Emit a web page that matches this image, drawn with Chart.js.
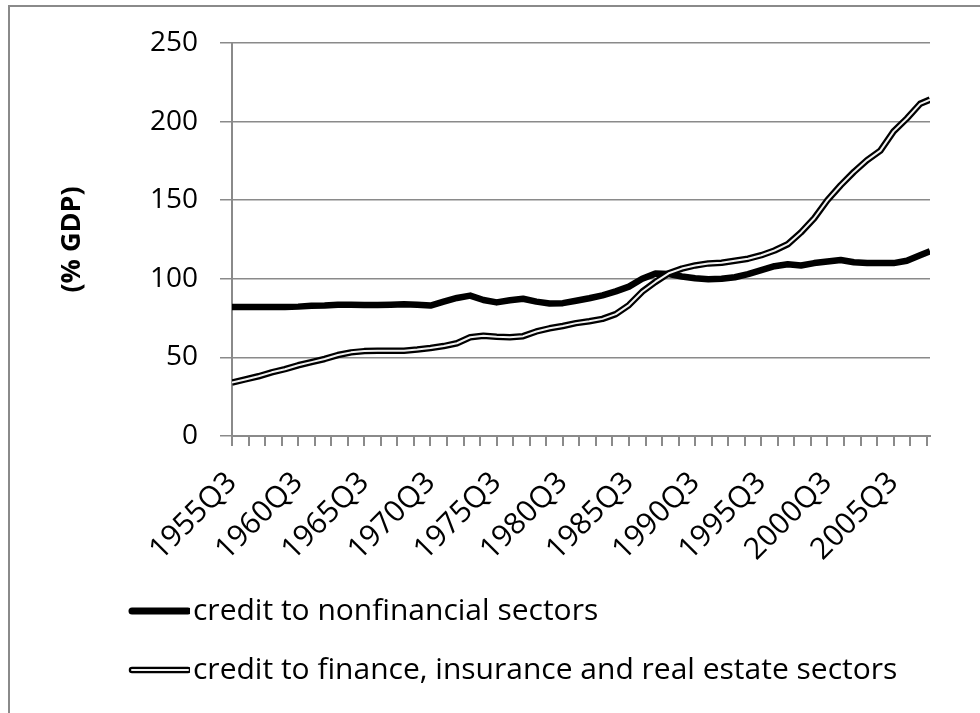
<!DOCTYPE html>
<html>
<head>
<meta charset="utf-8">
<script src="https://cdn.jsdelivr.net/npm/chart.js@4.4.1/dist/chart.umd.min.js"></script>
<style>
  html, body { margin: 0; padding: 0; background: #fff; }
  #wrap { position: relative; width: 980px; height: 713px; }
  #frame { position: absolute; left: 8px; top: 5px; right: -10px; bottom: -10px;
           border-top: 2px solid #8a8a8a; border-left: 2px solid #8a8a8a; pointer-events: none; }
</style>
</head>
<body>
<div id="wrap">
  <canvas id="myChart" width="980" height="713"></canvas>
  <div id="frame"></div>
</div>
<script>
// sample dates (Q3 of each year, last one 2008Q2)
var periods = ['1955Q3','1956Q3','1957Q3','1958Q3','1959Q3','1960Q3','1961Q3','1962Q3','1963Q3','1964Q3',
	'1965Q3','1966Q3','1967Q3','1968Q3','1969Q3','1970Q3','1971Q3','1972Q3','1973Q3','1974Q3',
	'1975Q3','1976Q3','1977Q3','1978Q3','1979Q3','1980Q3','1981Q3','1982Q3','1983Q3','1984Q3',
	'1985Q3','1986Q3','1987Q3','1988Q3','1989Q3','1990Q3','1991Q3','1992Q3','1993Q3','1994Q3',
	'1995Q3','1996Q3','1997Q3','1998Q3','1999Q3','2000Q3','2001Q3','2002Q3','2003Q3','2004Q3',
	'2005Q3','2006Q3','2007Q3','2008Q2'];

// credit to nonfinancial sectors (% GDP)
var nonfinancial = [82, 82, 82, 82, 82, 82.3, 82.8, 83, 83.5, 83.5,
	83.3, 83.3, 83.5, 83.8, 83.5, 83, 85.5, 87.8, 89.3, 86.5,
	85, 86.3, 87.3, 85.5, 84.3, 84.5, 86, 87.6, 89.5, 92,
	95, 100, 103.3, 103, 101.5, 100.3, 99.7, 100, 101, 103,
	105.5, 108, 109.2, 108.5, 110, 111, 112, 110.5, 110, 110,
	110, 111.5, 115, 117.5];

// credit to finance, insurance and real estate sectors (% GDP)
var fire = [34, 36, 38, 40.5, 42.5, 45, 47, 49, 51.5, 53.2,
	54, 54.3, 54.3, 54.3, 55, 56, 57.2, 59, 62.8, 63.8,
	63.2, 62.8, 63.5, 66.5, 68.5, 70, 71.8, 73, 74.5, 77.5,
	83.3, 91.8, 98, 103.5, 106.5, 108.5, 109.8, 110.2, 111.5, 112.8,
	115, 118, 122, 129.5, 138.5, 150, 159.5, 168, 175.5, 181.5,
	193.8, 202, 211.3, 214];

var tickLabels = ['1955Q3','1960Q3','1965Q3','1970Q3','1975Q3','1980Q3',
	'1985Q3','1990Q3','1995Q3','2000Q3','2005Q3'];

var seriesNames = ['credit to nonfinancial sectors',
	'credit to finance, insurance and real estate sectors'];

// quarter number counted from 1955Q3
var quarterIndex = function(p){
	var year = +p.substring(0,4);
	var q = +p.substring(5);
	return (year - 1955)*4 + (q - 3);
}

var toPoints = function(values){
	var pts = [];
	for (var i = 0; i < periods.length; i++){
		pts.push({x: quarterIndex(periods[i]), y: values[i]});
	}
	return pts;
}

// little pictures for the legend
var makeSample = function(double){
	var c = document.createElement('canvas');
	c.width = 62;
	c.height = 12;
	var g = c.getContext('2d');
	g.lineCap = 'round';
	g.strokeStyle = '#000';
	g.lineWidth = double ? 6.5 : 7;
	g.beginPath(); g.moveTo(4,6); g.lineTo(60,6); g.stroke();
	if (double){
		g.strokeStyle = '#f2f2f2';
		g.lineWidth = 2;
		g.beginPath(); g.moveTo(4,6); g.lineTo(60,6); g.stroke();
	}
	return c;
}

var fontName = "'Open Sans', sans-serif";
var gridGrey = '#8a8a8a';

var moveLegend = {
	id: 'moveLegend',
	afterLayout: function(chart){
		chart.legend.left = 111;
	}
}

var ctx = document.getElementById('myChart').getContext('2d');
var chart = new Chart(ctx, {
	type: 'line',
	data: {
		datasets: [{
			label: seriesNames[0],
			data: toPoints(nonfinancial),
			borderColor: '#000',
			borderWidth: 6.5,
			pointRadius: 0,
			pointStyle: makeSample(false),
			tension: 0,
			borderJoinStyle: 'round',
			order: 3
		},
		{
			label: seriesNames[1],
			data: toPoints(fire),
			borderColor: '#000',
			borderWidth: 6.5,
			pointRadius: 0,
			pointStyle: makeSample(true),
			tension: 0,
			borderJoinStyle: 'round',
			order: 2
		},
		{
			label: 'inner',
			data: toPoints(fire),
			borderColor: '#f2f2f2',
			borderWidth: 2,
			pointRadius: 0,
			tension: 0,
			borderJoinStyle: 'round',
			order: 1
		}]
	},
	options: {
		responsive: false,
		animation: false,
		layout: {
			padding: {left: 10, right: 50, top: 43, bottom: 18}
		},
		plugins: {
			tooltip: {enabled: false},
			legend: {
				position: 'bottom',
				align: 'start',
				labels: {
					usePointStyle: true,
					pointStyleWidth: 38,
					padding: 29,
					color: '#000',
					font: {family: fontName, size: 30},
					filter: function(item){ return item.datasetIndex < 2; },
					sort: function(a, b){ return a.datasetIndex - b.datasetIndex; }
				}
			}
		},
		scales: {
			x: {
				type: 'linear',
				min: 0,
				max: 211,
				afterFit: function(scale){
					scale.height = 131;
					scale.paddingLeft = 0;
					scale.paddingRight = 0;
				},
				grid: {
					drawOnChartArea: false,
					tickLength: 10,
					tickColor: gridGrey,
					lineWidth: 2
				},
				border: {color: gridGrey, width: 2},
				ticks: {
					stepSize: 5,
					includeBounds: false,
					autoSkip: false,
					minRotation: 45,
					maxRotation: 45,
					padding: 19,
					color: '#000',
					font: {family: fontName, size: 30},
					callback: function(v){
						return v % 20 === 0 ? tickLabels[v/20] : '';
					}
				}
			},
			y: {
				min: 0,
				max: 250,
				afterFit: function(scale){ scale.width = 222; },
				grid: {
					color: gridGrey,
					lineWidth: 1.5,
					tickLength: 12,
					tickColor: gridGrey
				},
				border: {color: gridGrey, width: 2},
				ticks: {
					stepSize: 50,
					padding: 22,
					color: '#000',
					font: {family: fontName, size: 28}
				},
				title: {
					display: true,
					text: '(% GDP)',
					color: '#000',
					font: {family: fontName, size: 27, weight: 'bold'},
					padding: {top: 45.8, bottom: 0}
				}
			}
		}
	},
	plugins: [moveLegend]
});
</script>
</body>
</html>
